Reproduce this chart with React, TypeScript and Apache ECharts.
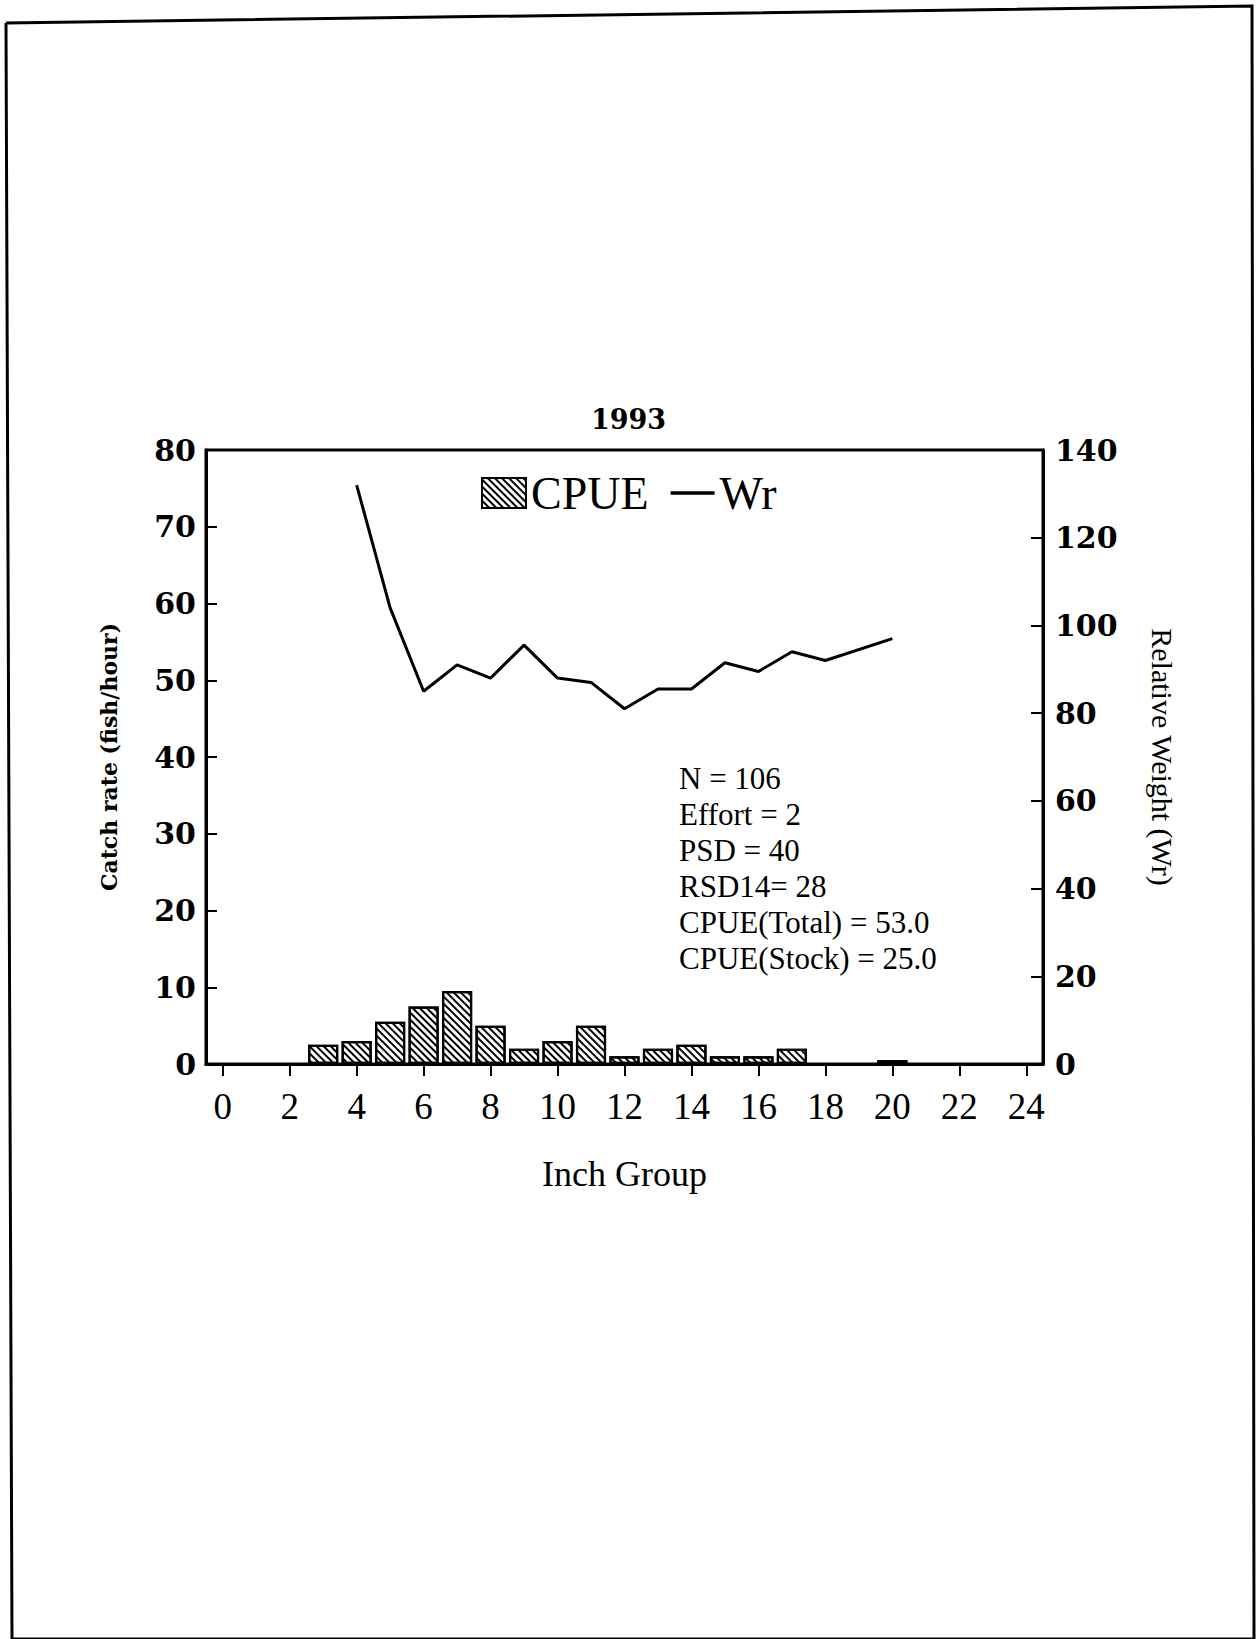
import React, { useEffect, useRef } from 'react';
import * as echarts from 'echarts';

// Inch groups along the x axis
const inchGroups = ['0', '1', '2', '3', '4', '5', '6', '7', '8', '9', '10', '11', '12',
  '13', '14', '15', '16', '17', '18', '19', '20', '21', '22', '23', '24'];

// Catch per unit effort (fish/hour) for each inch group
const cpue = [null, null, null, 2.5, 3, 5.5, 7.5, 9.5, 5, 2, 3, 5, 1, 2, 2.5, 1, 1, 2,
  null, null, 0.5, null, null, null, null];

// Mean relative weight (Wr) for each inch group
const wr = [null, null, null, null, 132, 104, 85, 91, 88, 95.5, 88, 87, 81, 85.5, 85.5,
  91.5, 89.5, 94, 92, null, 97, null, null, null, null];

const yearTitle = '1993';

// Sample summary statistics
const stats = ['N = 106', 'Effort = 2', 'PSD = 40', 'RSD14= 28', 'CPUE(Total) = 53.0', 'CPUE(Stock) = 25.0'];

const W = 1257;
const H = 1639;

export default function App() {
  const ref = useRef<HTMLDivElement>(null);

  useEffect(() => {
    const chart = echarts.init(ref.current!, null, { renderer: 'svg' });
    const serif = "'Liberation Serif', 'Times New Roman', serif";
    const heavy = "'DejaVu Serif', serif";

    chart.setOption({
      animation: false,
      backgroundColor: '#ffffff',
      title: {
        text: yearTitle,
        left: 'center',
        top: 401,
        textStyle: { fontFamily: heavy, fontWeight: 'bold', fontSize: 27, color: '#000' },
      },
      legend: {
        left: 481,
        top: 470,
        padding: 0,
        itemWidth: 44,
        itemHeight: 30,
        itemGap: 22,
        textStyle: { fontFamily: serif, fontSize: 46, color: '#000', lineHeight: 30 },
        data: [
          { name: 'CPUE', icon: 'rect' },
          { name: 'Wr', icon: 'path://M0,0h40v3h-40z', itemStyle: { color: '#000', borderWidth: 0 } },
        ],
      },
      grid: {
        left: 206,
        right: W - 1043,
        top: 450,
        bottom: H - 1064,
        show: true,
        borderColor: '#000',
        borderWidth: 3,
        backgroundColor: 'transparent',
      },
      xAxis: {
        type: 'category',
        data: inchGroups,
        boundaryGap: true,
        name: 'Inch Group',
        nameLocation: 'middle',
        nameGap: 92,
        nameTextStyle: { fontFamily: serif, fontSize: 36, color: '#000' },
        axisLine: { lineStyle: { color: '#000', width: 3 } },
        axisTick: { show: true, interval: 1, alignWithLabel: true, length: 12, lineStyle: { color: '#000', width: 2 } },
        axisLabel: { interval: 1, margin: 24, fontFamily: serif, fontSize: 37, color: '#000' },
        splitLine: { show: false },
      },
      yAxis: [
        {
          type: 'value',
          min: 0,
          max: 80,
          interval: 10,
          position: 'left',
          name: 'Catch rate (fish/hour)',
          nameLocation: 'middle',
          nameGap: 86,
          nameTextStyle: { fontFamily: heavy, fontWeight: 'bold', fontSize: 22, color: '#000' },
          axisLine: { show: true, lineStyle: { color: '#000', width: 3 } },
          axisTick: { show: true, inside: true, length: 11, lineStyle: { color: '#000', width: 2 } },
          axisLabel: { margin: 10, fontFamily: heavy, fontWeight: 'bold', fontSize: 30, color: '#000' },
          splitLine: { show: false },
        },
        {
          type: 'value',
          min: 0,
          max: 140,
          interval: 20,
          position: 'right',
          name: 'Relative Weight (Wr)',
          nameLocation: 'middle',
          nameGap: 104,
          nameRotate: -90,
          nameTextStyle: { fontFamily: serif, fontSize: 30, color: '#000' },
          axisLine: { show: true, lineStyle: { color: '#000', width: 3 } },
          axisTick: { show: true, inside: true, length: 12, lineStyle: { color: '#000', width: 2 } },
          axisLabel: { margin: 12, fontFamily: heavy, fontWeight: 'bold', fontSize: 30, color: '#000' },
          splitLine: { show: false },
        },
      ],
      series: [
        {
          name: 'CPUE',
          type: 'bar',
          yAxisIndex: 0,
          data: cpue,
          barWidth: '90%',
          itemStyle: {
            color: '#ffffff',
            borderColor: '#000',
            borderWidth: 2.2,
            decal: {
              symbol: 'rect',
              symbolSize: 1,
              color: '#000',
              dashArrayX: [1, 0],
              dashArrayY: [1.7, 2.3],
              rotation: Math.PI / 4,
            },
          },
        },
        {
          name: 'Wr',
          type: 'line',
          yAxisIndex: 1,
          data: wr,
          connectNulls: true,
          showSymbol: false,
          symbol: 'none',
          itemStyle: { color: '#000' },
          lineStyle: { color: '#000', width: 3 },
        },
      ],
      graphic: [
        {
          type: 'polyline',
          shape: { points: [[6, 23], [1252, 6], [1254, 1639], [12, 1639], [6, 23]] },
          style: { stroke: '#000', lineWidth: 3, fill: null },
          silent: true,
        },
        {
          type: 'text',
          x: 679,
          y: 760,
          style: {
            text: stats.join('\n'),
            fontFamily: serif,
            fontSize: 31,
            lineHeight: 36,
            fill: '#000',
            textAlign: 'left',
            textVerticalAlign: 'top',
          },
        },
      ],
    });

    return () => chart.dispose();
  }, []);

  return <div ref={ref} style={{ position: 'absolute', left: 0, top: 0, width: W, height: H }} />;
}
